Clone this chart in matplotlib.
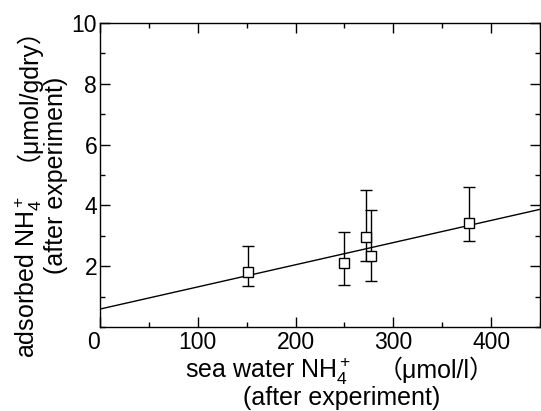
import matplotlib
matplotlib.use("Agg")
import matplotlib.pyplot as plt
from matplotlib.ticker import MultipleLocator

# data
sea_nh4 = [151, 250, 272, 277, 377]
adsorbed = [1.82, 2.10, 2.97, 2.35, 3.43]
err_upper = [2.67, 3.11, 4.51, 3.85, 4.62]
err_lower = [1.35, 1.38, 2.17, 1.51, 2.83]
fit_x = [0, 450]
fit_y = [0.59, 3.87]
x_ticks = [0, 100, 200, 300, 400]
y_ticks = [2, 4, 6, 8, 10]

plt.rcParams['font.family'] = ['Liberation Sans', 'Noto Sans CJK JP', 'DejaVu Sans']
plt.rcParams['mathtext.fontset'] = 'custom'
plt.rcParams['mathtext.rm'] = 'Liberation Sans'
plt.rcParams['mathtext.it'] = 'Liberation Sans'
plt.rcParams['mathtext.bf'] = 'Liberation Sans'

W, H = 541, 411
fig = plt.figure(figsize=(W / 100, H / 100), dpi=100)

def fx(x):
    return x / W

def fy(y):
    return 1 - y / H

ax = fig.add_axes([fx(100), fy(327), (540 - 100) / W, (327 - 23) / H])

ax.plot(fit_x, fit_y, color='black', lw=1.0, zorder=1)
yerr = [[a - l for a, l in zip(adsorbed, err_lower)],
        [u - a for a, u in zip(adsorbed, err_upper)]]
ax.errorbar(sea_nh4, adsorbed, yerr=yerr, fmt='s', ms=7.5, mfc='white',
            mec='black', mew=1.0, ecolor='black', elinewidth=1.0,
            capsize=4.5, capthick=1.0, zorder=3)

ax.set_xlim(0, 450)
ax.set_ylim(0, 10)
ax.set_xticks(x_ticks)
ax.set_yticks(y_ticks)
ax.xaxis.set_minor_locator(MultipleLocator(50))
ax.yaxis.set_minor_locator(MultipleLocator(1))
ax.tick_params(which='both', direction='in', top=True, right=True, width=1.0,
               labelsize=16.5, color='black')
ax.tick_params(which='major', length=7.2)
ax.tick_params(which='minor', length=3.6)
ax.tick_params(axis='x', pad=3)
ax.tick_params(axis='y', pad=2)
for s in ax.spines.values():
    s.set_linewidth(1.0)
ax.get_xticklabels()[0].set_horizontalalignment('right')

fs = 18
# x label
fig.text(fx(185), fy(378), 'sea water NH$_4^+$', ha='left', va='baseline', fontsize=fs)
fig.text(fx(495), fy(378), '（μmol/l）', ha='right', va='baseline', fontsize=fs)
fig.text(fx(342), fy(405), '(after experiment)', ha='center', va='baseline', fontsize=fs)

# y label
fig.text(fx(35), fy(358), 'adsorbed NH$_4^+$', ha='left', va='baseline', rotation=90,
         rotation_mode='anchor', fontsize=fs)
fig.text(fx(22), fy(1), '（μmol/gdry）', ha='right', va='baseline', rotation=90,
         rotation_mode='anchor', fontsize=fs)
fig.text(fx(63), fy(175), '(after experiment)', ha='center', va='baseline', rotation=90,
         rotation_mode='anchor', fontsize=fs)

fig.savefig('out.png', dpi=100)
